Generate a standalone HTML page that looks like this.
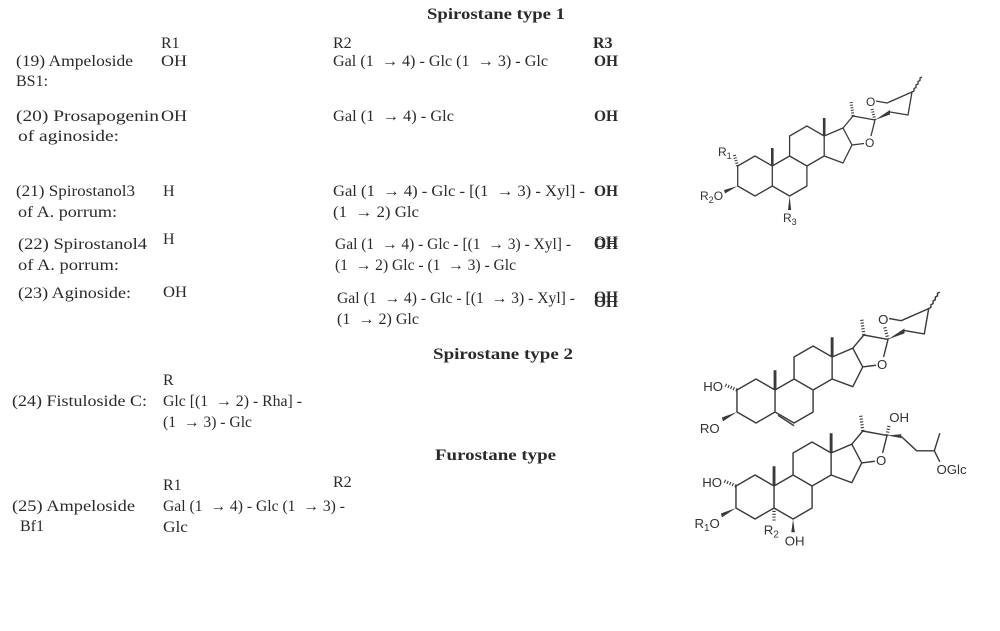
<!DOCTYPE html>
<html><head><meta charset="utf-8"><style>
html,body{margin:0;padding:0;background:#fff;}
svg{display:block;}
.t{font-family:"Liberation Serif",serif;font-size:16px;fill:#2a2a2a;white-space:pre;}
.b{font-weight:bold;}
.s{font-family:"Liberation Sans",sans-serif;font-size:12px;fill:#333;}
.ln{fill:none;stroke:#3a3a3a;stroke-width:1.3;stroke-linejoin:round;}
.th{fill:none;stroke:#3a3a3a;stroke-width:2.6;}
.hs{fill:none;stroke:#3a3a3a;stroke-width:3;stroke-dasharray:1 1.6;}
.wd{fill:#3a3a3a;stroke:none;}
</style></head><body>
<svg width="1000" height="631" viewBox="0 0 1000 631" xmlns="http://www.w3.org/2000/svg">
<rect width="1000" height="631" fill="#fff"/>
<defs>
<g id="core">
<path class="ln" d="M755,156 L772.3,166 L772.3,186 L755,196 L737.7,186 L737.7,166 Z M772.3,166 L789.6,156 L806.9,166 L806.9,186 L789.6,196 L772.3,186 M789.6,156 L789.6,136 L806.9,126 L824.2,136 L824.2,156 L806.9,166 M824.2,136 L843,128 L852,145 L843,163 L824.2,156 M843,128 L853,116 L875,120 M852,145 L864,143.5 M871,136 L875,120"/>
<path class="th" d="M772.3,166 V148 M824.2,136 V118"/>
<path class="hs" d="M853,116 L851,101"/>
</g>
<g id="ringF">
<path class="hs" d="M875,120 L872,109"/>
<path class="ln" d="M876,101 L887,103 L912,92 L908,115 L890,112"/>
<polygon class="wd" points="875,120 890,110 890,114.5"/>
<path class="ln" d="M912,92 l2,-1 l0,-2.5 l2,-1 l0,-2.5 l2,-1 l0,-2.5 l2,-1 l0,-2.5 l2,-1"/>
</g>
</defs>

<!-- Titles -->
<text class="t b" x="427" y="19" textLength="138" lengthAdjust="spacingAndGlyphs">Spirostane type 1</text>
<text class="t b" x="433" y="359" textLength="140" lengthAdjust="spacingAndGlyphs">Spirostane type 2</text>
<text class="t b" x="435" y="460" textLength="121" lengthAdjust="spacingAndGlyphs">Furostane type</text>

<!-- Headers -->
<text class="t" x="161" y="48">R1</text>
<text class="t" x="333" y="48">R2</text>
<text class="t b" x="593" y="48">R3</text>

<!-- Row 19 -->
<text class="t" x="16" y="66" textLength="117" lengthAdjust="spacingAndGlyphs">(19) Ampeloside</text>
<text class="t" x="16" y="86">BS1:</text>
<text class="t" x="161" y="66" textLength="26" lengthAdjust="spacingAndGlyphs">OH</text>
<text class="t" x="333" y="66" textLength="215" lengthAdjust="spacingAndGlyphs">Gal (1  → 4) - Glc (1  → 3) - Glc</text>
<text class="t b" x="594" y="66" textLength="24" lengthAdjust="spacingAndGlyphs">OH</text>

<!-- Row 20 -->
<text class="t" x="16" y="121" textLength="143" lengthAdjust="spacingAndGlyphs">(20) Prosapogenin</text>
<text class="t" x="18" y="141" textLength="101" lengthAdjust="spacingAndGlyphs">of aginoside:</text>
<text class="t" x="161" y="121" textLength="26" lengthAdjust="spacingAndGlyphs">OH</text>
<text class="t" x="333" y="121" textLength="121" lengthAdjust="spacingAndGlyphs">Gal (1  → 4) - Glc</text>
<text class="t b" x="594" y="121" textLength="24" lengthAdjust="spacingAndGlyphs">OH</text>

<!-- Row 21 -->
<text class="t" x="16" y="196" textLength="119" lengthAdjust="spacingAndGlyphs">(21) Spirostanol3</text>
<text class="t" x="18" y="217" textLength="99" lengthAdjust="spacingAndGlyphs">of A. porrum:</text>
<text class="t" x="163" y="196">H</text>
<text class="t" x="333" y="196" textLength="252" lengthAdjust="spacingAndGlyphs">Gal (1  → 4) - Glc - [(1  → 3) - Xyl] -</text>
<text class="t" x="333" y="217" textLength="86" lengthAdjust="spacingAndGlyphs">(1  → 2) Glc</text>
<text class="t b" x="594" y="196" textLength="24" lengthAdjust="spacingAndGlyphs">OH</text>

<!-- Row 22 -->
<text class="t" x="18" y="249" textLength="129" lengthAdjust="spacingAndGlyphs">(22) Spirostanol4</text>
<text class="t" x="18" y="270" textLength="101" lengthAdjust="spacingAndGlyphs">of A. porrum:</text>
<text class="t" x="163" y="244">H</text>
<text class="t" x="335" y="249" textLength="236" lengthAdjust="spacingAndGlyphs">Gal (1  → 4) - Glc - [(1  → 3) - Xyl] -</text>
<text class="t" x="335" y="270" textLength="181" lengthAdjust="spacingAndGlyphs">(1  → 2) Glc - (1  → 3) - Glc</text>
<text class="t b" x="594" y="249" textLength="24" lengthAdjust="spacingAndGlyphs">OH</text>
<text class="t b" x="594" y="247" textLength="24" lengthAdjust="spacingAndGlyphs">OH</text>

<!-- Row 23 -->
<text class="t" x="18" y="298" textLength="113" lengthAdjust="spacingAndGlyphs">(23) Aginoside:</text>
<text class="t" x="163" y="297" textLength="24" lengthAdjust="spacingAndGlyphs">OH</text>
<text class="t" x="337" y="303" textLength="238" lengthAdjust="spacingAndGlyphs">Gal (1  → 4) - Glc - [(1  → 3) - Xyl] -</text>
<text class="t" x="337" y="324" textLength="82" lengthAdjust="spacingAndGlyphs">(1  → 2) Glc</text>
<text class="t b" x="594" y="302" textLength="24" lengthAdjust="spacingAndGlyphs">OH</text>
<text class="t b" x="594" y="307" textLength="24" lengthAdjust="spacingAndGlyphs">OH</text>

<!-- Row 24 -->
<text class="t" x="163" y="385">R</text>
<text class="t" x="12" y="406" textLength="135" lengthAdjust="spacingAndGlyphs">(24) Fistuloside C:</text>
<text class="t" x="163" y="406" textLength="139" lengthAdjust="spacingAndGlyphs">Glc [(1  → 2) - Rha] -</text>
<text class="t" x="163" y="427" textLength="89" lengthAdjust="spacingAndGlyphs">(1  → 3) - Glc</text>

<!-- Row 25 -->
<text class="t" x="163" y="490">R1</text>
<text class="t" x="333" y="487">R2</text>
<text class="t" x="12" y="511" textLength="123" lengthAdjust="spacingAndGlyphs">(25) Ampeloside</text>
<text class="t" x="20" y="531">Bf1</text>
<text class="t" x="163" y="511" textLength="182" lengthAdjust="spacingAndGlyphs">Gal (1  → 4) - Glc (1  → 3) -</text>
<text class="t" x="163" y="532" textLength="25" lengthAdjust="spacingAndGlyphs">Glc</text>

<!-- Structure 1 -->
<g>
<use href="#core"/>
<use href="#ringF"/>
<text class="s" x="865" y="147">O</text>
<text class="s" x="866" y="106">O</text>
<path class="hs" d="M737.7,166 L734,154"/>
<text class="s" x="718" y="156">R<tspan font-size="9" dy="3">1</tspan></text>
<polygon class="wd" points="737.7,186 724,190 725,193.5"/>
<text class="s" x="700" y="200">R<tspan font-size="9" dy="3">2</tspan><tspan dy="-3">O</tspan></text>
<polygon class="wd" points="789.6,196 788,210 791.2,210"/>
<text class="s" x="783" y="222">R<tspan font-size="9" dy="3">3</tspan></text>
</g>

<!-- Structure 2 -->
<g transform="translate(756,401) scale(1.1) translate(-755,-176)">
<use href="#core"/>
<use href="#ringF"/>
<text class="s" x="865" y="147">O</text>
<text class="s" x="866" y="106">O</text>
<path class="ln" d="M775,189 L789.6,198.5"/>
<path class="hs" d="M737.7,166 L726,161"/>
<text class="s" x="707" y="167">HO</text>
<polygon class="wd" points="737.7,186 724,191 725,194.5"/>
<text class="s" x="704" y="205">RO</text>
</g>

<!-- Structure 3 -->
<g transform="translate(755,497) scale(1.1) translate(-755,-176)">
<use href="#core"/>
<text class="s" x="865" y="147">O</text>
<path class="hs" d="M875,120 L877,110"/>
<text class="s" x="877" y="108">OH</text>
<polygon class="wd" points="875,120 888,119 888,122.5"/>
<path class="ln" d="M888,121 L902,134 L918,134 L923,118 M918,134 L923,144"/>
<text class="s" x="920" y="155">OGlc</text>
<path class="hs" d="M737.7,166 L726,161"/>
<text class="s" x="707" y="167">HO</text>
<polygon class="wd" points="737.7,186 724,191 725,194.5"/>
<text class="s" x="700" y="204">R<tspan font-size="9" dy="3">1</tspan><tspan dy="-3">O</tspan></text>
<path class="hs" d="M772.3,186 L772.3,198"/>
<text class="s" x="763" y="210">R<tspan font-size="9" dy="3">2</tspan></text>
<polygon class="wd" points="789.6,196 788,208 791.2,208"/>
<text class="s" x="782" y="220">OH</text>
</g>
</svg>
</body></html>
